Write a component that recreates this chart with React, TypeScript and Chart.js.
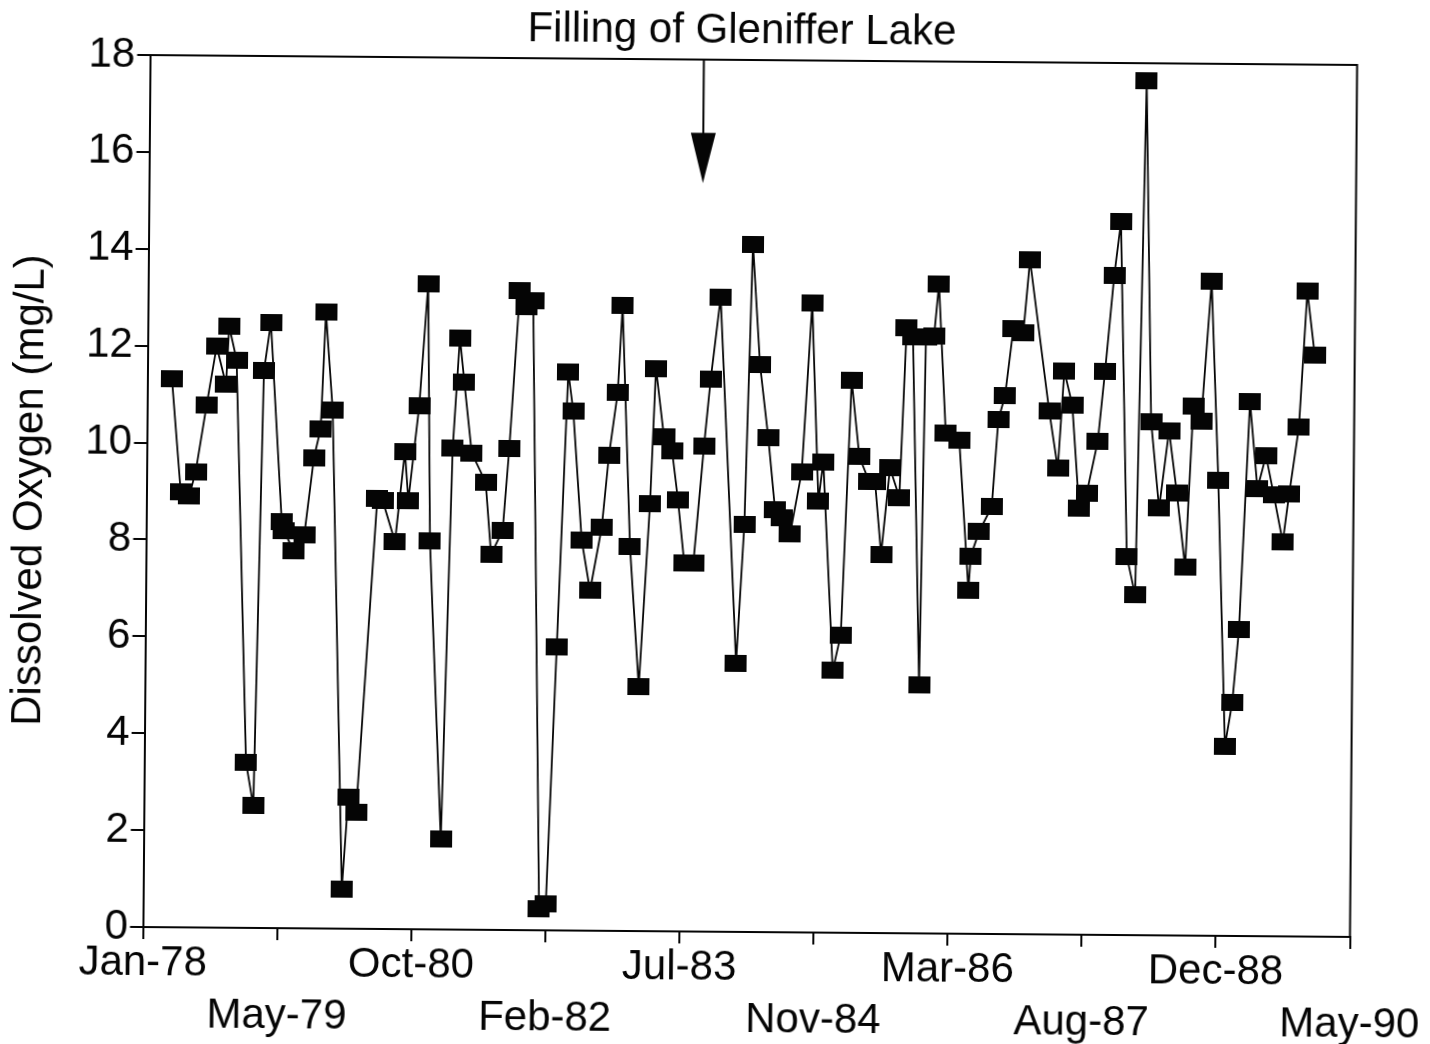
import React, { useEffect, useRef } from "react";
import { Chart, registerables } from "chart.js";

Chart.register(...registerables);

// Sampling dates, in months after January 1978
const sampleMonths = [
  3.0, 4.18, 5.24, 6.0, 7.28, 8.45, 9.63, 9.97, 10.91, 12.46,
  13.4, 14.27, 15.08, 16.6, 16.89, 18.05, 19.38, 20.49, 21.28, 21.82,
  22.74, 24.33, 25.04, 26.0, 28.3, 28.96, 30.51, 31.64, 32.1, 33.35,
  34.33, 34.8, 36.42, 37.49, 38.27, 38.85, 39.83, 41.57, 42.3, 43.7,
  44.43, 45.58, 46.42, 47.22, 48.54, 49.36, 50.45, 51.59, 52.24, 53.4,
  54.47, 55.84, 56.66, 57.67, 58.19, 59.33, 60.54, 61.74, 62.34, 63.39,
  64.39, 65.17, 66.0, 67.11, 68.3, 69.06, 70.2, 72.45, 73.33, 74.11,
  75.09, 76.18, 77.07, 77.9, 78.94, 80.31, 81.44, 82.38, 82.95, 84.31,
  85.26, 86.35, 87.36, 88.61, 89.31, 90.12, 91.13, 92.3, 93.04, 93.82,
  94.91, 95.41, 96.4, 96.96, 97.93, 99.6, 100.86, 101.12, 102.11, 103.64,
  104.37, 105.16, 106.11, 107.34, 108.09, 110.6, 111.7, 112.41, 113.42, 114.35,
  115.28, 116.58, 117.4, 118.44, 119.21, 120.25, 121.31, 122.22, 123.1, 124.16,
  125.31, 126.32, 127.41, 128.27, 129.23, 130.39, 131.4, 132.47, 133.33, 134.08,
  135.21, 136.2, 137.22, 138.2, 139.36, 140.1, 141.23, 142.13, 143.1,
];

// Dissolved oxygen, mg/L
const dissolvedOxygen = [
  11.32, 9.0, 8.91, 9.41, 10.79, 12.0, 11.21, 12.41, 11.72, 3.42,
  2.52, 11.5, 12.5, 8.4, 8.2, 7.8, 8.12, 9.72, 10.31, 12.72,
  10.7, 0.82, 2.71, 2.4, 8.89, 8.84, 8.0, 9.86, 8.85, 10.81,
  13.32, 8.01, 1.86, 9.93, 12.22, 11.31, 9.84, 9.24, 7.75, 8.25,
  9.94, 13.2, 12.88, 13.0, 0.45, 0.55, 5.86, 11.53, 10.72, 8.06,
  7.02, 8.32, 9.82, 11.11, 12.91, 7.93, 5.05, 8.82, 11.62, 10.2,
  9.92, 8.9, 7.6, 7.6, 10.02, 11.41, 13.1, 5.55, 8.41, 14.2,
  11.71, 10.2, 8.73, 8.55, 8.22, 9.51, 13.0, 8.91, 9.72, 5.41,
  6.15, 11.4, 9.83, 9.31, 9.32, 7.82, 9.6, 9.0, 12.5, 12.32,
  5.13, 12.32, 12.33, 13.41, 10.33, 10.19, 7.1, 7.8, 8.3, 8.82,
  10.62, 11.11, 12.49, 12.41, 13.92, 10.8, 9.62, 11.63, 10.93, 8.81,
  9.12, 10.19, 11.63, 13.62, 14.72, 7.82, 7.02, 17.63, 10.61, 8.82,
  10.42, 9.14, 7.61, 10.93, 10.62, 13.51, 9.4, 3.92, 4.82, 6.33,
  11.03, 9.24, 9.92, 9.12, 8.14, 9.13, 10.52, 13.32, 12.0,
];

// Date axis: Jan-78 to May-90, ten evenly spaced ticks
const AXIS_MONTHS = 148;
const xTickLabels = [
  "Jan-78", "May-79", "Oct-80", "Feb-82", "Jul-83",
  "Nov-84", "Mar-86", "Aug-87", "Dec-88", "May-90",
];

// Filling of Gleniffer Lake annotation (arrow drawn down from the top frame)
const fillingMonth = 67.9;
const fillingLabel = "Filling of Gleniffer Lake";
const arrowHeadBase = 16.49;
const arrowHeadTip = 15.45;

const FONT_FAMILY = '"Liberation Sans", Arial, Helvetica, sans-serif';
const FONT_SIZE = 42;
const INK = "#050505";

const annotationPlugin = {
  id: "frameAndArrow",
  afterDraw(chart: any) {
    const { ctx, chartArea, scales } = chart;
    const xs = scales.x;
    const ys = scales.y;
    ctx.save();
    ctx.strokeStyle = INK;
    ctx.fillStyle = INK;
    ctx.lineWidth = 2;
    // top and right edges of the frame
    ctx.beginPath();
    ctx.moveTo(chartArea.left, chartArea.top);
    ctx.lineTo(chartArea.right, chartArea.top);
    ctx.lineTo(chartArea.right, chartArea.bottom);
    ctx.stroke();

    // arrow
    const ax = xs.getPixelForValue(fillingMonth);
    const yBase = ys.getPixelForValue(arrowHeadBase);
    const yTip = ys.getPixelForValue(arrowHeadTip);
    ctx.beginPath();
    ctx.moveTo(ax, chartArea.top);
    ctx.lineTo(ax, yBase + 1);
    ctx.stroke();
    ctx.beginPath();
    ctx.moveTo(ax - 12.5, yBase);
    ctx.lineTo(ax + 12.5, yBase);
    ctx.lineTo(ax, yTip);
    ctx.closePath();
    ctx.fill();

    // annotation text above the frame
    ctx.font = `${FONT_SIZE}px ${FONT_FAMILY}`;
    ctx.textAlign = "center";
    ctx.textBaseline = "middle";
    ctx.fillText(fillingLabel, (chartArea.left + chartArea.right) / 2 - 12, chartArea.top - 29);
    ctx.restore();
  },
};

export default function App() {
  const canvasRef = useRef<HTMLCanvasElement>(null);

  useEffect(() => {
    const canvas = canvasRef.current;
    if (!canvas) return;

    // filled rectangular marker, slightly wider than tall
    const marker = document.createElement("canvas");
    marker.width = 22;
    marker.height = 17;
    const mctx = marker.getContext("2d");
    if (mctx) {
      mctx.fillStyle = INK;
      mctx.fillRect(0, 0, 22, 17);
    }

    Chart.defaults.font.family = FONT_FAMILY;

    const points = sampleMonths.map((m, i) => ({ x: m, y: dissolvedOxygen[i] }));

    const chart = new Chart(canvas, {
      type: "line",
      data: {
        datasets: [
          {
            data: points,
            borderColor: INK,
            borderWidth: 1.8,
            pointStyle: marker as any,
            pointRadius: 11,
            pointHoverRadius: 11,
            tension: 0,
            fill: false,
          },
        ],
      },
      options: {
        responsive: false,
        animation: false,
        devicePixelRatio: 1,
        layout: {
          autoPadding: false,
          padding: { left: 0, top: 60, right: 76.4, bottom: 0 },
        },
        plugins: {
          legend: { display: false },
          tooltip: { enabled: false },
          title: { display: false },
        },
        scales: {
          x: {
            type: "linear",
            min: 0,
            max: AXIS_MONTHS,
            afterBuildTicks: (scale: any) => {
              scale.ticks = xTickLabels.map((_, i) => ({
                value: (i * AXIS_MONTHS) / (xTickLabels.length - 1),
              }));
            },
            afterFit: (scale: any) => {
              scale.height = 112;
            },
            ticks: {
              autoSkip: false,
              maxRotation: 0,
              minRotation: 0,
              padding: -1,
              color: INK,
              font: { size: FONT_SIZE, lineHeight: 1.229 },
              callback: (_v: any, i: number) =>
                i % 2 === 0 ? xTickLabels[i] : ["", xTickLabels[i]],
            },
            grid: {
              display: true,
              drawOnChartArea: false,
              drawTicks: true,
              tickLength: 12,
              color: INK,
              lineWidth: 2,
            },
            border: { display: true, color: INK, width: 2 },
          },
          y: {
            min: 0,
            max: 18,
            afterFit: (scale: any) => {
              scale.width = 146.6;
            },
            ticks: {
              stepSize: 2,
              padding: 2,
              color: INK,
              font: { size: FONT_SIZE },
            },
            grid: {
              display: true,
              drawOnChartArea: false,
              drawTicks: true,
              tickLength: 13,
              color: INK,
              lineWidth: 2,
            },
            border: { display: true, color: INK, width: 2 },
            title: {
              display: true,
              text: "Dissolved Oxygen (mg/L)",
              color: INK,
              font: { size: FONT_SIZE },
              padding: { top: 5, bottom: 0 },
            },
          },
        },
      },
      plugins: [annotationPlugin],
    });

    return () => chart.destroy();
  }, []);

  return (
    <div
      style={{
        position: "fixed",
        left: 0,
        top: 0,
        width: 1430,
        height: 1044,
        overflow: "hidden",
        background: "#fff",
      }}
    >
      <canvas
        ref={canvasRef}
        width={1430}
        height={1044}
        style={{
          display: "block",
          width: 1430,
          height: 1044,
          transform: "rotate(0.47deg)",
          transformOrigin: "750px 492px",
        }}
      />
    </div>
  );
}
